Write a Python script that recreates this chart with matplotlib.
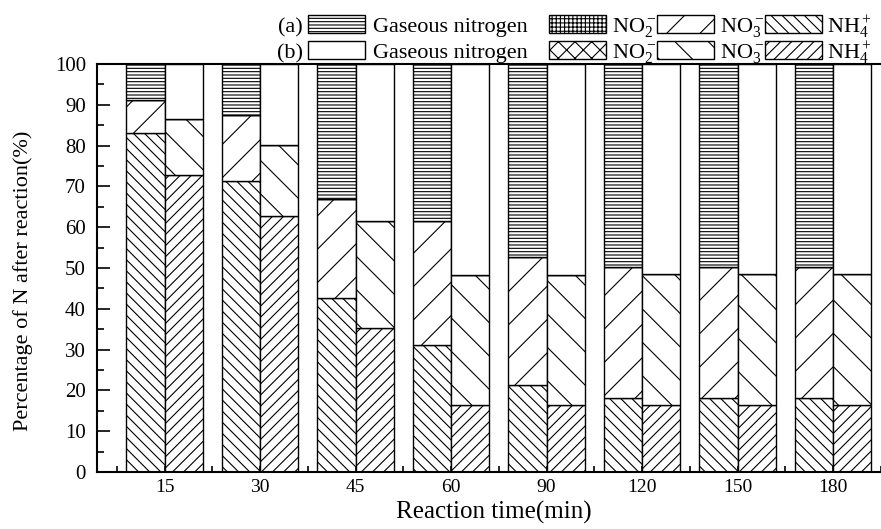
import matplotlib
matplotlib.use('Agg')
import matplotlib.pyplot as plt
import numpy as np
from matplotlib.patches import Rectangle
from matplotlib.ticker import MultipleLocator, FixedLocator

plt.rcParams['font.family'] = 'Liberation Serif'
plt.rcParams['mathtext.fontset'] = 'custom'
plt.rcParams['mathtext.rm'] = 'Liberation Serif'
plt.rcParams['mathtext.it'] = 'Liberation Serif:italic'
plt.rcParams['hatch.linewidth'] = 0.8

times = ['15', '30', '45', '60', '90', '120', '150', '180']

# (a) series, % of N (stack order: NH4+, NO3-, NO2-, gaseous)
a_nh4 = [83.2, 71.4, 42.6, 31.2, 21.4, 18.1, 18.1, 18.2]
a_no3 = [8.0, 16.1, 24.3, 30.3, 31.4, 32.1, 32.2, 32.0]
a_no2 = [0, 0, 0, 0, 0, 0, 0, 0]
a_gas = [100 - n - o - t for n, o, t in zip(a_nh4, a_no3, a_no2)]

# (b) series
b_nh4 = [72.7, 62.7, 35.4, 16.3, 16.3, 16.4, 16.5, 16.5]
b_no3 = [13.8, 17.5, 26.2, 32.1, 32.1, 32.1, 32.0, 32.0]
b_no2 = [0, 0, 0, 0, 0, 0, 0, 0]
b_gas = [100 - n - o - t for n, o, t in zip(b_nh4, b_no3, b_no2)]

labels = ['Gaseous nitrogen', r'NO$_2^-$', r'NO$_3^-$', r'NH$_4^+$']
hatch_a = ['-----', '++++', '/', '\\\\\\']
hatch_b = ['', 'xx', '\\', '///']

W, H = 881, 529
fig = plt.figure(figsize=(W / 100, H / 100), dpi=100)
ax = fig.add_axes([97 / W, 57 / H, 793 / W, 408 / H])

x = np.arange(len(times))
w = 0.4


def stack(xpos, parts, hatches):
    bottom = np.zeros(len(xpos))
    for vals, h in zip(parts, hatches):
        vals = np.array(vals, dtype=float)
        ax.bar(xpos, vals, w, bottom=bottom, align='edge', hatch=h,
               facecolor='white', edgecolor='black', linewidth=1)
        bottom += vals


# order bottom->top: NH4, NO3, NO2, gas
stack(x - w, [a_nh4, a_no3, a_no2, a_gas], hatch_a[::-1])
stack(x, [b_nh4, b_no3, b_no2, b_gas], hatch_b[::-1])

ax.set_xlim(-0.707, -0.707 + 793 / 95.5)
ax.set_ylim(0, 100)
ax.yaxis.set_major_locator(MultipleLocator(10))
ax.yaxis.set_minor_locator(MultipleLocator(5))
ax.xaxis.set_major_locator(FixedLocator(x))
ax.xaxis.set_minor_locator(FixedLocator(np.arange(-0.5, 8, 1)))
ax.set_xticklabels(times)
ax.tick_params(axis='y', which='major', direction='in', length=9, width=1.2,
               labelsize=15, pad=8)
ax.tick_params(axis='y', which='minor', direction='in', length=5, width=1.2)
ax.tick_params(axis='x', which='both', direction='in', length=4, width=1.2,
               labelsize=14, pad=5)
for s in ax.spines.values():
    s.set_linewidth(1.5)
ax.spines['right'].set_visible(False)

ax.set_xlabel('Reaction time(min)', fontsize=18)
ax.xaxis.set_label_coords(0.5, -0.07)
ax.set_ylabel('Percentage of N after reaction(%)', fontsize=16)
ax.yaxis.set_label_coords(-0.081, 0.468)

# legend rows drawn above the axes
patch_x = [308, 549, 657, 765]
text_x = [373, 612, 720, 827]
rows = [('(a)', hatch_a, 15), ('(b)', hatch_b, 41)]
for tag, hatches, top in rows:
    fig.text(303 / W, 1 - (top + 17) / H, tag, ha='right', va='baseline',
             fontsize=16)
    for px, tx, h, lab in zip(patch_x, text_x, hatches, labels):
        fig.add_artist(Rectangle((px / W, 1 - (top + 18) / H), 57 / W, 18 / H,
                                 transform=fig.transFigure, facecolor='white',
                                 edgecolor='black', linewidth=1, hatch=h))
        fig.text(tx / W, 1 - (top + 17) / H, lab, ha='left', va='baseline',
                 fontsize=16)

fig.savefig('out.png', dpi=100)
